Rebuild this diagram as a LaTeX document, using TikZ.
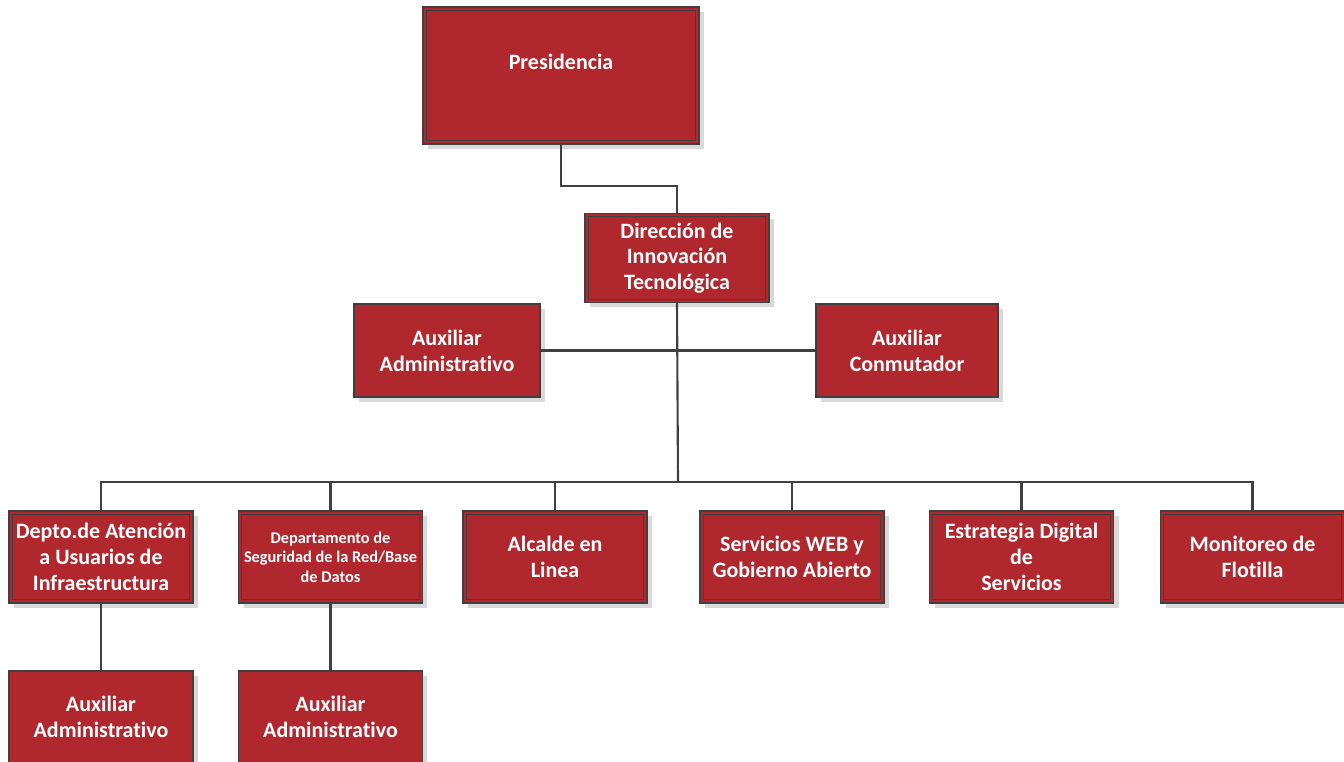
\documentclass[tikz,border=0pt]{standalone}
\usepackage{fontspec}
\setmainfont[Ligatures=CommonOff]{Carlito}
\usetikzlibrary{shadows}
\definecolor{orgred}{RGB}{176,40,46}
\definecolor{orgline}{RGB}{64,64,64}
\definecolor{orgshadow}{RGB}{217,217,217}

\tikzset{
  unit/.style={draw=orgline, line width=0.8pt, fill=orgred, text=white,
    font=\bfseries\fontsize{12.5}{14.7}\selectfont, align=center,
    minimum width=3.68cm, minimum height=1.84cm, inner sep=2pt,
    drop shadow={shadow xshift=0.1cm, shadow yshift=-0.1cm, fill=orgshadow, opacity=1}},
  frame/.style={draw=orgline, line width=0.5pt},
  link/.style={draw=orgline, line width=1.2pt},
}

\begin{document}
\begin{tikzpicture}[x=0.02cm, y=-0.02cm]
    \useasboundingbox (0,0) rectangle (1344,761);

    % top levels
    \node[unit, minimum width=5.52cm, minimum height=2.74cm, text depth=0.54cm] (pres) at (561,75.5) {Presidencia};
    \node[unit, minimum height=1.78cm] (dir) at (677,258) {Dirección de\\Innovación\\Tecnológica};

    % staff boxes
    \node[unit, minimum width=3.72cm, minimum height=1.86cm] (auxa) at (447,350.5) {Auxiliar\\Administrativo};
    \node[unit, minimum width=3.64cm, minimum height=1.86cm] (auxc) at (907,350.5) {Auxiliar\\Conmutador};

    % departments
    \node[unit] (depto) at (101,557) {Depto.de Atención\\a Usuarios de\\Infraestructura};
    \node[unit, font=\bfseries\fontsize{9.3}{11}\selectfont] (segur) at (330.5,557) {Departamento de\\Seguridad de la Red/Base\\de Datos};
    \node[unit] (alcalde) at (555,557) {Alcalde en\\Linea};
    \node[unit] (web) at (792,557) {Servicios WEB y\\Gobierno Abierto};
    \node[unit] (estrat) at (1021.5,557) {Estrategia Digital\\de\\Servicios};
    \node[unit] (monit) at (1252.5,557) {Monitoreo de\\Flotilla};

    % assistants
    \node[unit] (aux1) at (101,717) {Auxiliar\\Administrativo};
    \node[unit] (aux2) at (330.5,717) {Auxiliar\\Administrativo};

    % inner frames
    \foreach \n in {pres,dir,depto,segur,alcalde,web,estrat,monit}
        \draw[frame] ([shift={(4,-4)}]\n.south west) rectangle ([shift={(-4,4)}]\n.north east);

    % connectors
    \coordinate (bus) at (678,482);
    \draw[link] (pres.south) -- ++(0,41) -| (dir.north);
    \draw[link] (dir.south) -- (bus);
    \draw[link] (auxa.east) -- (auxc.west);
    \foreach \n in {depto,segur,alcalde,web,estrat,monit}
        \draw[link] (bus) -| (\n.north);
    \draw[link] (depto.south) -- (aux1.north);
    \draw[link] (segur.south) -- (aux2.north);
\end{tikzpicture}
\end{document}
